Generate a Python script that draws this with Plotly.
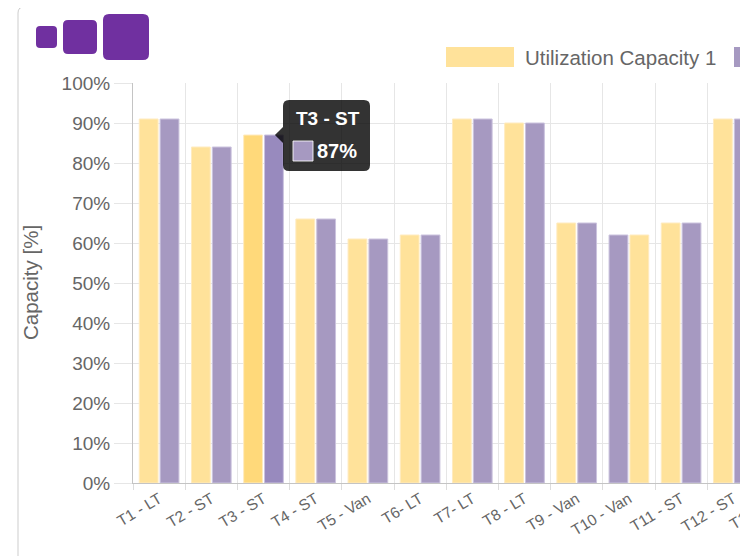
import plotly.graph_objects as go

# ---------------- data ----------------
categories = ["T1 - LT", "T2 - ST", "T3 - ST", "T4 - ST", "T5 - Van", "T6- LT",
              "T7- LT", "T8 - LT", "T9 - Van", "T10 - Van", "T11 - ST", "T12 - ST"]
next_category = "T13 - LT"   # only partly visible at the right edge
util1 = [91, 84, 87, 66, 61, 62, 91, 90, 65, 62, 65, 91]
util2 = [91, 84, 87, 66, 61, 62, 91, 90, 65, 62, 65, 91]
series_names = ["Utilization Capacity 1", "Utilization Capacity 2"]
y_ticks = [0, 10, 20, 30, 40, 50, 60, 70, 80, 90, 100]
y_tick_text = [f"{v}%" for v in y_ticks]
hovered = "T3 - ST"
swapped = ["T10 - Van"]

# ---------------- layout geometry ----------------
# constants below are in screen pixels; the page body adds an 8px offset
W, H = 748, 556
OFF = 8
L_S, T_S = 133, 83            # plot-area top-left on screen
Lf, Tf = L_S - OFF, T_S - OFF  # in figure pixels
PW, PH = W - Lf, 400
B = H - Tf - PH
STEP = 52.2
XMAX = -0.5 + PW / STEP
FONT = "Liberation Sans, Arial, sans-serif"
GREY = "#666666"

def fx(x):
    return (x - L_S) / PW

def fy(y):
    return (T_S + PH - y) / PH

def rrect(x0, y0, x1, y1, r):
    pts = [("M", x0 + r, y0), ("L", x1 - r, y0), ("Q", x1, y0, x1, y0 + r),
           ("L", x1, y1 - r), ("Q", x1, y1, x1 - r, y1), ("L", x0 + r, y1),
           ("Q", x0, y1, x0, y1 - r), ("L", x0, y0 + r), ("Q", x0, y0, x0 + r, y0)]
    s = ""
    for p in pts:
        if p[0] == "Q":
            s += f"Q{fx(p[1])},{fy(p[2])} {fx(p[3])},{fy(p[4])} "
        else:
            s += f"{p[0]}{fx(p[1])},{fy(p[2])} "
    return s + "Z"

# ---------------- colours ----------------
Y_N, Y_H = "#FFE29A", "#FFD97A"
P_N, P_H = "#A699C1", "#988ABE"
Y_LINE, P_LINE = "#FFEBC0", "#CBC3DE"

col1 = [Y_H if c == hovered else Y_N for c in categories]
col2 = [P_H if c == hovered else P_N for c in categories]
BW = 0.36
off1 = [0.02 if c in swapped else -0.38 for c in categories]
off2 = [-0.38 if c in swapped else 0.02 for c in categories]

fig = go.Figure()
fig.add_trace(go.Bar(x=categories, y=util1, name=series_names[0], width=BW, offset=off1,
                     marker=dict(color=col1, line=dict(color=Y_LINE, width=1))))
fig.add_trace(go.Bar(x=categories, y=util2, name=series_names[1], width=BW, offset=off2,
                     marker=dict(color=col2, line=dict(color=P_LINE, width=1))))

shapes = []
annotations = []

# card border
card = (f"M{fx(18)},{fy(620)} L{fx(18)},{fy(13)} Q{fx(18)},{fy(7)} {fx(24)},{fy(7)} "
        f"L{fx(820)},{fy(7)}")
shapes.append(dict(type="path", path=card, xref="paper", yref="paper",
                   line=dict(color="rgba(0,0,0,0.2)", width=1)))

# logo
for (x0, y0, x1, y1, r) in [(36, 26, 57, 48, 4), (63, 20, 97, 54, 5), (103, 14, 149, 60, 6)]:
    shapes.append(dict(type="path", path=rrect(x0, y0, x1, y1, r), xref="paper", yref="paper",
                       fillcolor="#7030A0", line=dict(width=0)))

# legend (drawn by hand; the second item runs off the right edge)
for i, (bx, col) in enumerate([(446, Y_N), (734, P_N)]):
    shapes.append(dict(type="rect", xref="paper", yref="paper",
                       x0=fx(bx), x1=fx(bx + 68), y0=fy(67), y1=fy(47),
                       fillcolor=col, line=dict(width=0)))
    annotations.append(dict(text=series_names[i], xref="paper", yref="paper",
                            x=fx(bx + 77), y=fy(57), xanchor="left", yanchor="middle",
                            showarrow=False, font=dict(family=FONT, size=20.5, color=GREY)))

# y-axis title
annotations.append(dict(text="Capacity [%]", xref="paper", yref="paper", x=fx(30), y=fy(283),
                        textangle=-90, showarrow=False, xanchor="center", yanchor="middle",
                        font=dict(family=FONT, size=20.5, color=GREY)))

# partially visible 13th label
x13 = L_S + (len(categories) + 0.5) * STEP
annotations.append(dict(text=next_category, xref="paper", yref="paper", x=fx(x13 + 2), y=fy(486),
                        textangle=-31, showarrow=False, xanchor="right", yanchor="top",
                        font=dict(family=FONT, size=15.5, color=GREY)))

# tooltip
hi = categories.index(hovered)
val = util2[hi]
tip_x = L_S + (hi + 0.5 + 0.2) * STEP + 1
tip_y = T_S + PH - val * PH / 100
bx0, by0, bx1, by1 = 283, 100, 370, 171
shapes.append(dict(type="path", path=rrect(bx0, by0, bx1, by1, 6), xref="paper", yref="paper",
                   fillcolor="rgba(0,0,0,0.8)", line=dict(width=0), layer="above"))
caret = f"M{fx(bx0)},{fy(tip_y - 8)} L{fx(tip_x)},{fy(tip_y)} L{fx(bx0)},{fy(tip_y + 8)} Z"
shapes.append(dict(type="path", path=caret, xref="paper", yref="paper",
                   fillcolor="rgba(0,0,0,0.8)", line=dict(width=0), layer="above"))
shapes.append(dict(type="rect", xref="paper", yref="paper", x0=fx(293), x1=fx(313),
                   y0=fy(161), y1=fy(141), fillcolor=P_N,
                   line=dict(color="rgba(255,255,255,0.85)", width=1), layer="above"))
annotations.append(dict(text=f"<b>{hovered}</b>", xref="paper", yref="paper", x=fx(294), y=fy(118),
                        xanchor="left", yanchor="middle", showarrow=False,
                        font=dict(family=FONT, size=19, color="white")))
annotations.append(dict(text=f"<b>{val}%</b>", xref="paper", yref="paper", x=fx(315), y=fy(151),
                        xanchor="left", yanchor="middle", showarrow=False,
                        font=dict(family=FONT, size=20, color="white")))

fig.update_layout(
    width=W, height=H,
    margin=dict(l=Lf, r=0, t=Tf, b=B, pad=0),
    paper_bgcolor="white", plot_bgcolor="white",
    showlegend=False,
    barmode="group",
    shapes=shapes, annotations=annotations,
    xaxis=dict(type="category", range=[-0.5, XMAX], tickson="boundaries",
               ticks="outside", ticklen=6, tickcolor="#dddddd",
               showgrid=True, gridcolor="#e6e6e6", gridwidth=1,
               showline=True, linecolor="#c4c4c4", linewidth=1,
               tickangle=-31, tickfont=dict(family=FONT, size=15.5, color=GREY),
               fixedrange=True),
    yaxis=dict(range=[0, 100], tickmode="array", tickvals=y_ticks, ticktext=y_tick_text,
               ticks="outside", ticklen=18, tickcolor="#e6e6e6",
               showgrid=True, gridcolor="#e6e6e6", gridwidth=1, zeroline=False,
               showline=True, linecolor="#c4c4c4", linewidth=1,
               tickfont=dict(family=FONT, size=19, color=GREY), fixedrange=True),
)

fig.write_html("out.html", config={"displayModeBar": False})
